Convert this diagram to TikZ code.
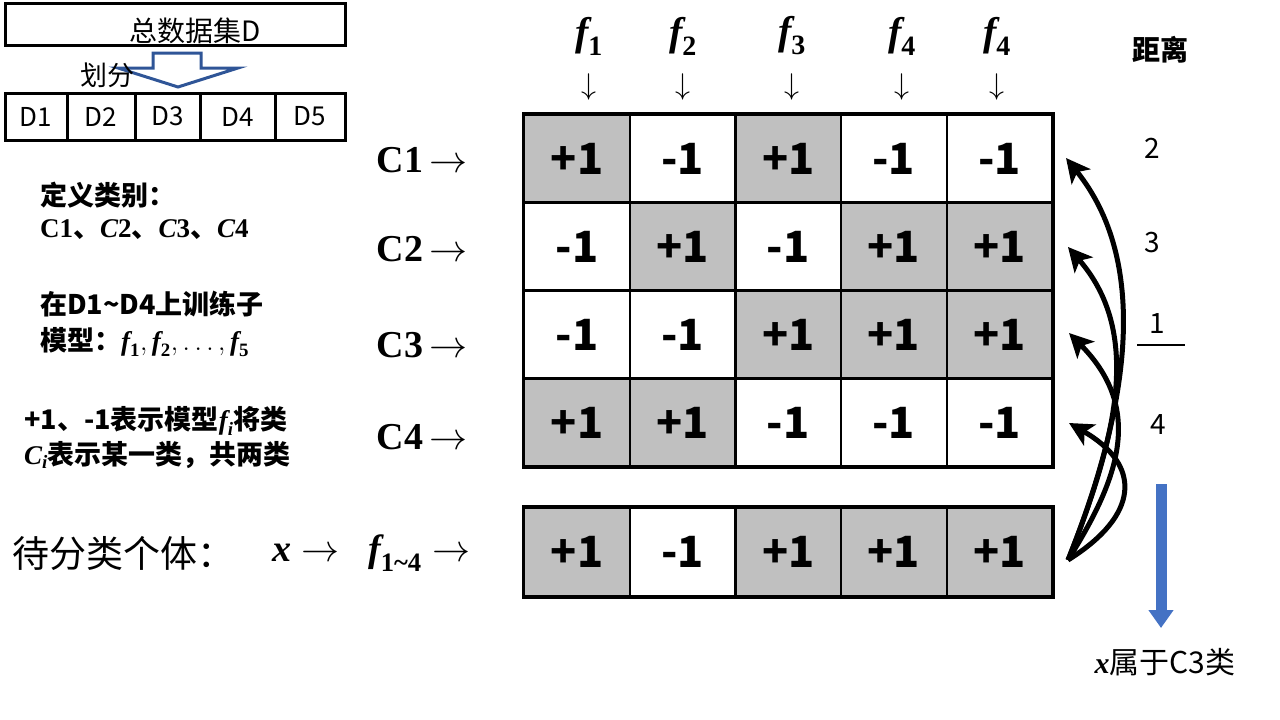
\RequirePackage{fix-cm}
\documentclass[tikz,border=0pt]{standalone}
\usepackage{amsmath}
\usepackage[no-math]{fontspec}
\setmainfont{Noto Sans CJK SC}
\newfontfamily\cam{Liberation Serif}
\newcommand\bi[1]{\text{\cam\bfseries\itshape #1}}
\newcommand\bu[1]{\text{\cam\bfseries #1}}
\usetikzlibrary{arrows.meta}
\definecolor{cellgray}{HTML}{C0C0C0}
\definecolor{bluearr}{HTML}{4472C4}
\definecolor{blueline}{HTML}{2F5597}
\tikzset{
  cellbox/.style={draw=black, line width=2.2pt, minimum width=105.6pt, minimum height=88pt, inner sep=0pt, font=\fontsize{43}{45}\selectfont\bfseries},
  poscell/.style={cellbox, fill=cellgray},
  negcell/.style={cellbox, fill=white},
  dbox/.style={draw=black, line width=3pt, minimum height=47pt, inner sep=0pt, font=\fontsize{26}{28}\selectfont},
  clab/.style={font=\fontsize{38}{40}\selectfont, anchor=center},
  flab/.style={font=\fontsize{40}{42}\selectfont, anchor=center, inner sep=0pt},
  darr/.style={font=\fontsize{30}{32}\selectfont, anchor=center, inner sep=0pt},
  lefttxt/.style={anchor=west, font=\fontsize{27}{29}\selectfont\bfseries, inner sep=0pt},
  dist/.style={font=\fontsize{28}{30}\selectfont, anchor=center},
  curvearr/.style={line width=5pt, -{Stealth[length=24pt,width=24pt,inset=6pt]}}
}
\begin{document}
\begin{tikzpicture}[x=1pt,y=-1pt]
\useasboundingbox (0,0) rectangle (1280,720);
% top-left dataset
\node[draw=black, line width=3pt, minimum width=340pt, minimum height=42pt, inner sep=0pt] (D) at (175,24) {};
\node[font=\fontsize{28}{30}\selectfont, inner sep=0pt] (Dtxt) at (195,31) {总数据集D};
\draw[blueline, line width=3pt, fill=white, line join=miter] (153,53) -- (201,53) -- (201,68) -- (238,68) -- (178,87) -- (118,68) -- (153,68) -- cycle;
\node[font=\fontsize{27}{29}\selectfont, inner sep=0pt] (split) at (107,75) {划分};
\node[dbox, minimum width=62pt] (D1) at (36,116.5) {D1};
\node[dbox, minimum width=68pt] (D2) at (101,116.5) {D2};
\node[dbox, minimum width=65pt] (D3) at (167.5,116.5) {D3};
\node[dbox, minimum width=75pt] (D4) at (237.5,116.5) {D4};
\node[dbox, minimum width=70pt] (D5) at (310,116.5) {D5};
% left texts
\node[lefttxt] (t1) at (40,195) {定义类别：};
\node[lefttxt] (t2) at (40,230) {{\cam C1}、{\cam\itshape C}{\cam 2}、{\cam\itshape C}{\cam 3}、{\cam\itshape C}{\cam 4}};
\node[lefttxt] (t3) at (40,304) {在D1\textasciitilde D4上训练子};
\node[lefttxt] (t4) at (40,342) {模型：$\bi{f}_{\bu{1}},\bi{f}_{\bu{2}},\dots,\bi{f}_{\bu{5}}$};
\node[lefttxt] (t5) at (24,421) {+1、-1表示模型$\bi{f}_{\bi{i}}$将类};
\node[lefttxt] (t6) at (24,455) {$\bi{C}_{\bi{i}}$表示某一类，共两类};
% header
\foreach \x/\s/\n in {589/1/1,683/2/2,792/3/3,902/4/4,997/4/5}{
  \node[flab] (f\n) at (\x,36) {$\bi{f}_{\bu{\s}}$};
  \node[darr] (a\n) at (\x,87) {$\downarrow$};
}
\node[font=\fontsize{28}{30}\selectfont\bfseries] (dlab) at (1160,50) {距离};
% matrix
\foreach \r/\y/\vals in {1/158.5/{p,n,p,n,n},2/246.5/{n,p,n,p,p},3/334.5/{n,n,p,p,p},4/422.5/{p,p,n,n,n}}{
  \foreach \v [count=\c] in \vals {
    \if p\v
      \node[poscell] (m\r\c) at (577+105.6*\c-105.6,\y) {+1};
    \else
      \node[negcell] (m\r\c) at (577+105.6*\c-105.6,\y) {-1};
    \fi
  }
}
\draw[line width=3pt] (m11.north west) rectangle (m45.south east);
\foreach \r/\y in {1/160,2/249,3/345,4/437}{
  \node[clab] (c\r) at (422,\y) {{\cam\bfseries C\r}\,$\rightarrow$};
}
% sample row
\foreach \v [count=\c] in {p,n,p,p,p}{
  \if p\v
    \node[poscell] (x\c) at (577+105.6*\c-105.6,552) {+1};
  \else
    \node[negcell] (x\c) at (577+105.6*\c-105.6,552) {-1};
  \fi
}
\draw[line width=3pt] (x1.north west) rectangle (x5.south east);
\node[anchor=west, font=\fontsize{37}{39}\selectfont, inner sep=0pt] (samp) at (12,553) {待分类个体：};
\node[anchor=west, font=\fontsize{38}{40}\selectfont, inner sep=0pt] (sx) at (272,553) {$\bi{x}\rightarrow$};
\node[anchor=west, font=\fontsize{38}{40}\selectfont, inner sep=0pt] (sf) at (368,553) {$\bi{f}_{\bu{1\textasciitilde4}}\rightarrow$};
% distances
\node[dist] (d1) at (1152,148) {2};
\node[dist] (d2) at (1152,243) {3};
\node[dist] (d3) at (1157,324) {1};
\draw[line width=2pt] (1137,345) -- (1185,345);
\node[dist] (d4) at (1158,425) {4};
% curved arrows
\coordinate (src) at (1068,560);
\coordinate (e1) at (1066,158);
\coordinate (e2) at (1068,247);
\coordinate (e3) at (1069,333);
\coordinate (e4) at (1069,423);
\draw[curvearr] (src) .. controls (1132,400) and (1148,260) .. (e1);
\draw[curvearr] (src) .. controls (1120,430) and (1140,330) .. (e2);
\draw[curvearr] (src) .. controls (1118,480) and (1145,410) .. (e3);
\draw[curvearr] (src) .. controls (1140,515) and (1142,465) .. (e4);
% blue arrow and result
\coordinate (bs) at (1161,484);
\coordinate (be) at (1161,628);
\draw[bluearr, line width=11pt, -{Triangle[length=18pt,width=24pt]}] (bs) -- (be);
\node[font=\fontsize{30}{32}\selectfont, inner sep=0pt] (res) at (1165,662) {$\bi{x}$属于C3类};
\end{tikzpicture}
\end{document}
